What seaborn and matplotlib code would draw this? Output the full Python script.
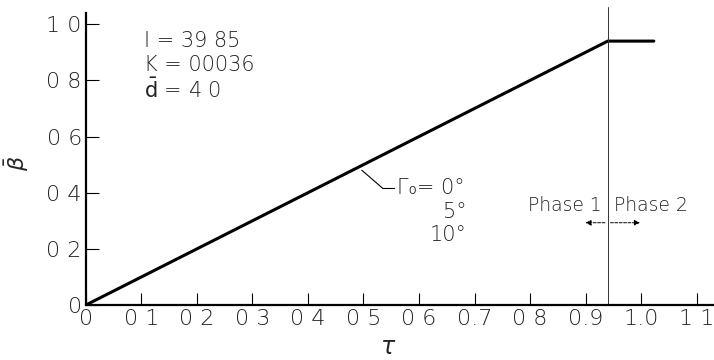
import matplotlib
matplotlib.use("Agg")
import matplotlib.pyplot as plt
import seaborn as sns
import pandas as pd

# Mean response vs. dimensionless time
tau = [0.0, 0.94, 1.023]
beta = [0.0, 0.94, 0.94]
phase_boundary = 0.94

x_ticks = [0, 0.1, 0.2, 0.3, 0.4, 0.5, 0.6, 0.7, 0.8, 0.9, 1.0, 1.1]
x_labels = ["0", "0 1", "0 2", "0 3", "0 4", "0 5", "0 6", "0.7", "0 8", "0.9", "1.0", "1 1"]
y_ticks = [0, 0.2, 0.4, 0.6, 0.8, 1.0]
y_labels = ["0", "0 2", "0 4", "0 6", "0 8", "1 0"]

params = ["I = 39 85", "K = 00036", r"$\bar{\mathrm{d}}$ = 4 0"]
gamma_labels = ["Γ₀= 0°", "5°", "10°"]

sns.set_theme(style="white")
plt.rcParams["font.family"] = ["DejaVu Sans"]
plt.rcParams["mathtext.fontset"] = "dejavusans"

fig = plt.figure(figsize=(7.14, 3.6), dpi=100)
ax = fig.add_axes([0.1204, 0.1528, 0.88, 0.811])

df = pd.DataFrame({"tau": tau, "beta": beta})
sns.lineplot(data=df, x="tau", y="beta", ax=ax, color="black", linewidth=2.2,
             sort=False, estimator=None)

ax.axvline(phase_boundary, ymin=0, ymax=1.02, clip_on=False, color="#333333", linewidth=0.7)
ax.set_xlim(0, 1.132)
ax.set_ylim(0, 1.04)

for s in ["top", "right"]:
    ax.spines[s].set_visible(False)
for s in ["left", "bottom"]:
    ax.spines[s].set_color("black")
    ax.spines[s].set_linewidth(1.6)

ax.set_xticks(x_ticks)
ax.set_xticklabels(x_labels)
ax.set_yticks(y_ticks)
ax.set_yticklabels(y_labels)
ax.tick_params(axis="both", direction="in", length=9, width=0.8, color="black",
               labelsize=16, labelcolor="#222222", bottom=True, left=True)
ax.tick_params(axis="x", pad=3)
ax.tick_params(axis="y", pad=3)
for lbl in ax.get_xticklabels() + ax.get_yticklabels():
    lbl.set_fontweight("light")

ax.set_xlabel(r"$\tau$", fontsize=17, va="center")
ax.xaxis.set_label_coords(0.481, -0.145)
ax.set_ylabel(r"$\bar{\beta}$", fontsize=16, rotation=90, va="center")
ax.yaxis.set_label_coords(-0.11, 0.485)

# Parameter block
for i, t in enumerate(params):
    ax.text(0.105, 0.975 - i * 0.083, t, fontsize=15, fontweight="light",
            color="#222222", va="top", ha="left")

# Leader to the line for the Γ₀ values
ax.plot([0.497, 0.535, 0.556], [0.48, 0.415, 0.415], color="black", linewidth=0.8)
ax.text(0.56, 0.415, gamma_labels[0], fontsize=15, fontweight="light",
        color="#222222", va="center", ha="left")
ax.text(0.685, 0.33, gamma_labels[1], fontsize=15, fontweight="light",
        color="#222222", va="center", ha="right")
ax.text(0.685, 0.25, gamma_labels[2], fontsize=15, fontweight="light",
        color="#222222", va="center", ha="right")

# Phase labels and arrows
ax.text(phase_boundary - 0.01, 0.355, "Phase 1", fontsize=13.5, fontweight="light",
        color="#222222", va="center", ha="right")
ax.text(phase_boundary + 0.012, 0.355, "Phase 2", fontsize=13.5, fontweight="light",
        color="#222222", va="center", ha="left")
ax.annotate("", xy=(phase_boundary - 0.045, 0.293), xytext=(phase_boundary, 0.293),
            arrowprops=dict(arrowstyle="-|>", color="black", linewidth=0.7,
                            linestyle=(0, (3, 1.5)), mutation_scale=8))
ax.annotate("", xy=(phase_boundary + 0.063, 0.293), xytext=(phase_boundary, 0.293),
            arrowprops=dict(arrowstyle="-|>", color="black", linewidth=0.7,
                            linestyle=(0, (3, 1.5)), mutation_scale=8))

fig.savefig("out.png", dpi=100)
